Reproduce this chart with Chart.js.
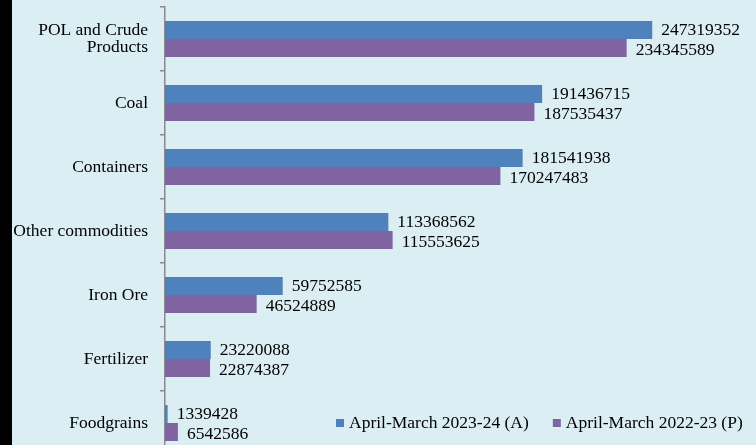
<!DOCTYPE html>
<html>
<head>
<meta charset="utf-8">
<script src="https://cdn.jsdelivr.net/npm/chart.js@4.4.1/dist/chart.umd.min.js"></script>
<style>
  html, body { margin: 0; padding: 0; overflow: hidden; width: 756px; height: 445px; background: #daeef3; }
  .strip { position: absolute; left: 0; top: 0; width: 12px; height: 445px; background: #000; }
  .wrap { position: absolute; left: 12px; top: 0; width: 744px; height: 455px; }
</style>
</head>
<body>
<div class="strip"></div>
<div class="wrap"><canvas id="myChart"></canvas></div>
<script>
const categories = [
  ["POL and Crude", "Products"],
  "Coal",
  "Containers",
  "Other commodities",
  "Iron Ore",
  "Fertilizer",
  "Foodgrains"
];
const values2324 = [247319352, 191436715, 181541938, 113368562, 59752585, 23220088, 1339428];
const values2223 = [234345589, 187535437, 170247483, 115553625, 46524889, 22874387, 6542586];
const seriesNames = ["April-March 2023-24 (A)", "April-March 2022-23 (P)"];

const serif = "'Liberation Serif', 'Times New Roman', serif";
const ctx = document.getElementById("myChart").getContext("2d");

const bgPlugin = {
  id: "bg",
  beforeDraw: (chart) => {
    const c = chart.ctx;
    c.save();
    c.fillStyle = "#daeef3";
    c.fillRect(0, 0, chart.width, chart.height);
    c.restore();
  }
};

// value labels at the end of each bar
const valueLabels = {
  id: "valueLabels",
  afterDatasetsDraw: (chart) => {
    const c = chart.ctx;
    c.save();
    c.font = "17.5px " + serif;
    c.fillStyle = "#000";
    c.textAlign = "left";
    c.textBaseline = "middle";
    chart.data.datasets.forEach((ds, i) => {
      chart.getDatasetMeta(i).data.forEach((bar, j) => {
        const shift = i === 0 ? 0 : 2;
        c.fillText(String(ds.data[j]), bar.x + 9, bar.y + shift);
      });
    });
    c.restore();
  }
};

// legend drawn inside the plot, bottom right
const innerLegend = {
  id: "innerLegend",
  afterDraw: (chart) => {
    const c = chart.ctx;
    c.save();
    c.font = "17.5px " + serif;
    c.textBaseline = "middle";
    c.textAlign = "left";
    let x = 324;
    const y = 423;
    chart.data.datasets.forEach((ds) => {
      c.fillStyle = ds.backgroundColor;
      c.fillRect(x, y - 4, 8, 8);
      c.fillStyle = "#000";
      c.fillText(ds.label, x + 13, y);
      x += 13 + c.measureText(ds.label).width + 24;
    });
    c.restore();
  }
};

new Chart(ctx, {
  type: "bar",
  data: {
    labels: categories,
    datasets: [
      { label: seriesNames[0], data: values2324, backgroundColor: "#4f81bd" },
      { label: seriesNames[1], data: values2223, backgroundColor: "#8064a2" }
    ]
  },
  options: {
    indexAxis: "y",
    responsive: true,
    maintainAspectRatio: false,
    animation: false,
    layout: { padding: { top: 7, left: 0, right: 0, bottom: 0 } },
    datasets: { bar: { categoryPercentage: 0.5625, barPercentage: 1.0 } },
    scales: {
      x: { display: false, min: 0, max: 300000000 },
      y: {
        afterFit: (scale) => {
          scale.width = 153;
          scale.paddingTop = 0;
          scale.paddingBottom = 0;
        },
        grid: { drawOnChartArea: false, drawTicks: true, tickLength: 5, color: "#8a8a8a", lineWidth: 1.5 },
        border: { display: true, color: "#8a8a8a", width: 1.5 },
        ticks: { color: "#000", padding: 12, font: { family: serif, size: 17.5, lineHeight: 0.95 } }
      }
    },
    plugins: { legend: { display: false }, tooltip: { enabled: false } }
  },
  plugins: [bgPlugin, valueLabels, innerLegend]
});
</script>
</body>
</html>
